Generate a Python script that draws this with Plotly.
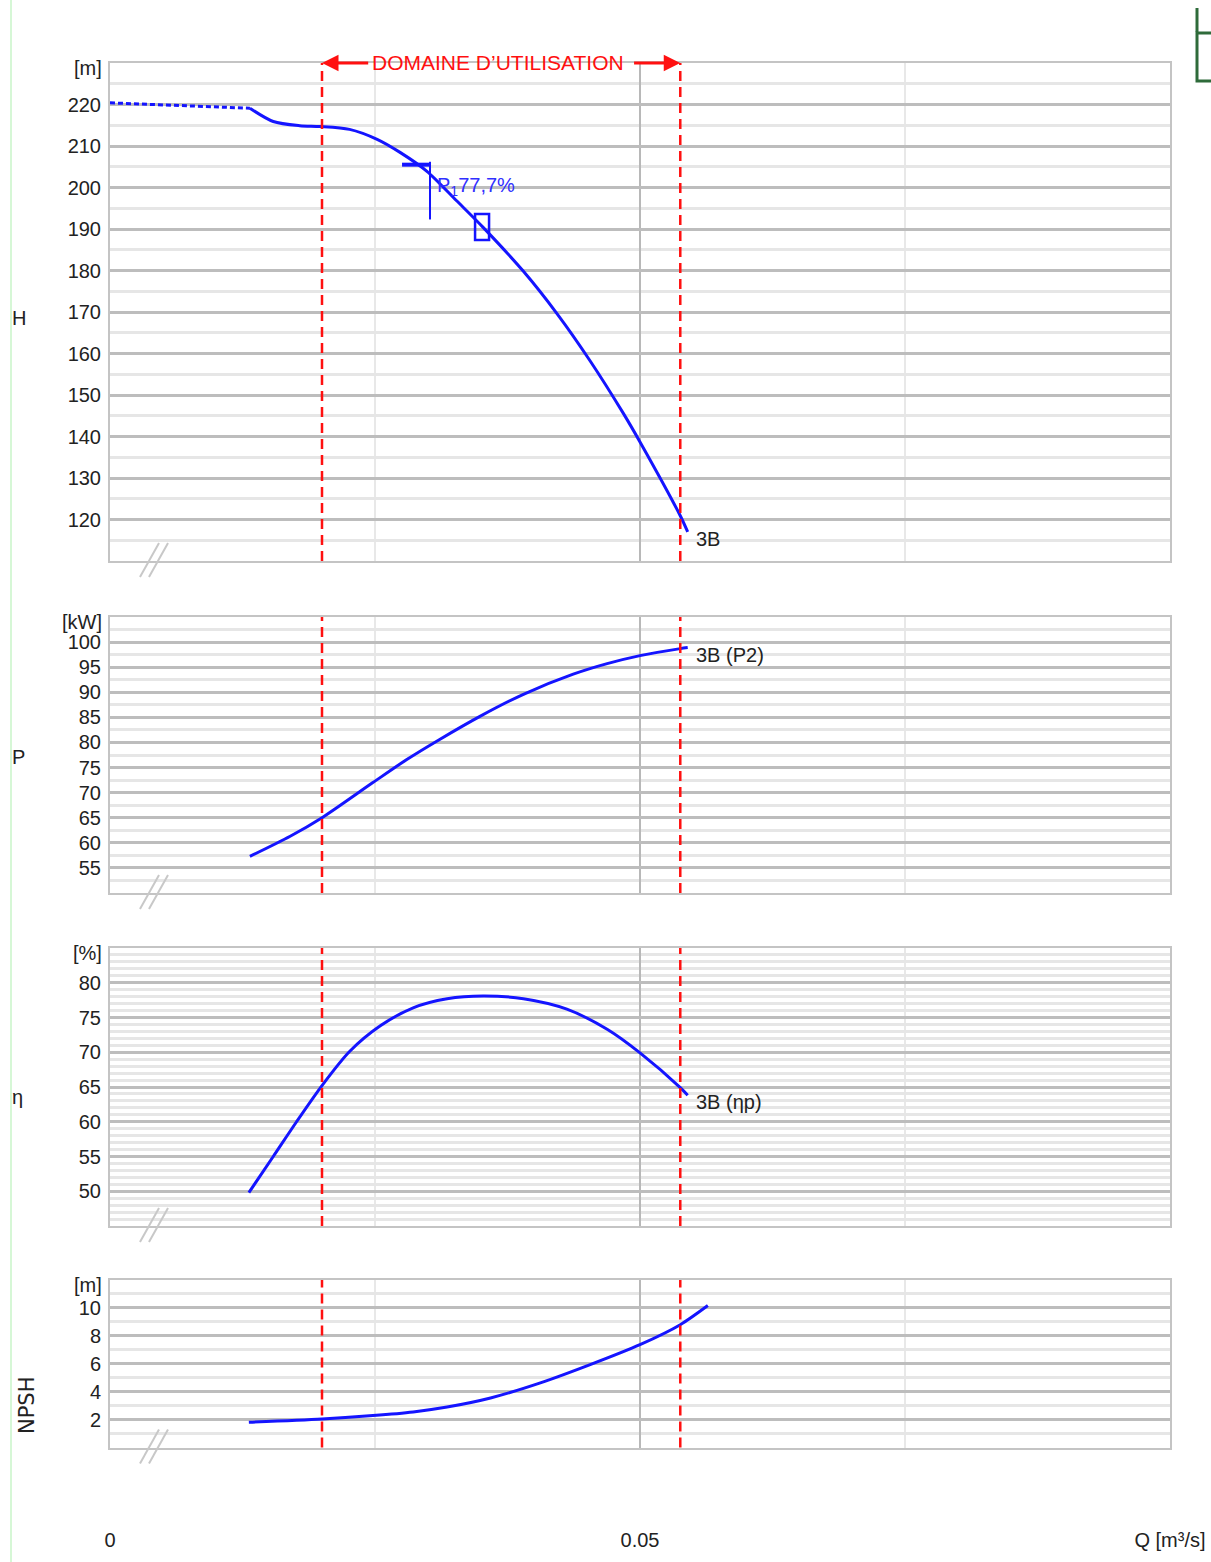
import plotly.graph_objects as go

# ---------------- data ----------------
q_h_dotted = [0.0, 0.0132]
h_dotted = [220.4, 219.1]

q_h = [0.0132, 0.0154, 0.0179, 0.0198, 0.0226, 0.0252, 0.0274, 0.0299, 0.0327,
       0.0352, 0.0390, 0.0422, 0.0453, 0.0484, 0.0500, 0.0538, 0.0545]
h_vals = [219.1, 215.9, 214.9, 214.7, 214.0, 211.6, 208.4, 203.9, 196.8,
          190.4, 179.8, 169.5, 158.2, 145.7, 138.7, 120.9, 117.0]

q_p = [0.0132, 0.0170, 0.0200, 0.0248, 0.0280, 0.0311, 0.0349, 0.0390, 0.0437,
       0.0469, 0.0500, 0.0538, 0.0545]
p_vals = [57.3, 61.3, 65.0, 72.0, 76.6, 80.6, 85.2, 89.6, 93.6, 95.7, 97.3, 98.7, 98.9]

q_eta = [0.0131, 0.0154, 0.0176, 0.0200, 0.0226, 0.0255, 0.0286, 0.0318, 0.0352,
         0.0390, 0.0431, 0.0469, 0.0500, 0.0538, 0.0545]
eta_vals = [49.8, 55.0, 60.0, 65.2, 70.1, 73.8, 76.4, 77.7, 78.1, 77.7, 76.2, 73.3,
            69.9, 64.9, 63.8]

q_npsh = [0.0131, 0.0200, 0.0248, 0.0286, 0.0318, 0.0359, 0.0406, 0.0453, 0.0500,
          0.0538, 0.0564]
npsh_vals = [1.81, 2.05, 2.29, 2.55, 2.90, 3.55, 4.63, 5.94, 7.37, 8.80, 10.17]

domain_q = [0.0200, 0.0538]          # DOMAINE D'UTILISATION limits
bep_q, bep_h = 0.0351, 190.5          # operating point (square)
bep_label = "P<sub>1</sub>77,7%"

x_tickvals = [0, 0.05, 0.1]
x_ticktext = ["0", "0.05", "Q [m³/s]"]
x_minor = [0.025, 0.075]

h_ticks = list(range(120, 221, 10))
p_ticks = list(range(55, 101, 5))
eta_ticks = list(range(50, 81, 5))
npsh_ticks = [2, 4, 6, 8, 10]

curve_labels = ["3B", "3B (P2)", "3B (ηp)"]

# ---------------- layout helpers ----------------
W, HGT = 1211, 1562
FONT = "Liberation Sans Narrow, Liberation Sans, Arial, sans-serif"
BLUE = "#1414ff"
RED = "#ff1010"
TXT = "#222222"
FS = 20


def py(px):
    return 1 - px / HGT


def pxx(px):
    return px / W


panels = [
    dict(top=63, bot=561, rng=[110, 230], ticks=h_ticks, minor=5, unit="[m]", unit_y=68,
         name="H", name_y=318),
    dict(top=617, bot=893, rng=[50, 105], ticks=p_ticks, minor=2.5, unit="[kW]", unit_y=622,
         name="P", name_y=757),
    dict(top=948, bot=1226, rng=[45, 85], ticks=eta_ticks, minor=1, unit="[%]", unit_y=953,
         name="η", name_y=1097),
    dict(top=1280, bot=1447.5, rng=[0, 12], ticks=npsh_ticks, minor=1, unit="[m]", unit_y=1285,
         name="NPSH", name_y=1405),
]

fig = go.Figure()

line_style = dict(color=BLUE, width=3)
fig.add_trace(go.Scatter(x=q_h_dotted, y=h_dotted, mode="lines", xaxis="x", yaxis="y",
                         line=dict(color=BLUE, width=3, dash="5px,3px")))
fig.add_trace(go.Scatter(x=q_h, y=h_vals, mode="lines", xaxis="x", yaxis="y",
                         line=dict(shape="spline", smoothing=0.8, **line_style)))
fig.add_trace(go.Scatter(x=q_p, y=p_vals, mode="lines", xaxis="x2", yaxis="y2",
                         line=dict(shape="spline", smoothing=0.8, **line_style)))
fig.add_trace(go.Scatter(x=q_eta, y=eta_vals, mode="lines", xaxis="x3", yaxis="y3",
                         line=dict(shape="spline", smoothing=0.8, **line_style)))
fig.add_trace(go.Scatter(x=q_npsh, y=npsh_vals, mode="lines", xaxis="x4", yaxis="y4",
                         line=dict(shape="spline", smoothing=0.8, **line_style)))

layout = dict(
    width=W, height=HGT, autosize=False,
    margin=dict(l=0, r=0, t=0, b=0, pad=0),
    paper_bgcolor="white", plot_bgcolor="white",
    showlegend=False,
    font=dict(family=FONT, color=TXT, size=FS),
)

shapes = []
annotations = []

for i, pn in enumerate(panels):
    k = "" if i == 0 else str(i + 1)
    xa = dict(
        domain=[pxx(110), pxx(1170)], range=[0, 0.1], anchor="y" + k, automargin=False,
        tickvals=x_tickvals, ticktext=x_ticktext, showticklabels=(i == 3),
        ticks="", showgrid=True, gridcolor="#b8b8b8", gridwidth=2, zeroline=False,
        showline=True, mirror=True, linecolor="#c4c4c4", linewidth=2,
        minor=dict(tickvals=x_minor, showgrid=True, gridcolor="#e8e8e8", gridwidth=2),
        tickfont=dict(size=FS, color=TXT),
    )
    if i == 3:
        xa["ticklabelstandoff"] = 73
    ya = dict(
        domain=[py(pn["bot"]), py(pn["top"])], range=pn["rng"], anchor="x" + k,
        automargin=False,
        tickvals=pn["ticks"], ticks="", showgrid=True, gridcolor="#bdbdbd", gridwidth=3,
        zeroline=False, showline=True, mirror=True, linecolor="#c4c4c4", linewidth=2,
        minor=dict(dtick=pn["minor"], showgrid=True, gridcolor="#e6e6e6", gridwidth=3),
        tickfont=dict(size=FS, color=TXT), ticklabelstandoff=3,
    )
    layout["xaxis" + k] = xa
    layout["yaxis" + k] = ya

    # domain limits (red dashed)
    for q in domain_q:
        shapes.append(dict(type="line", xref="x" + k, yref="y" + k + " domain",
                           x0=q, x1=q, y0=0, y1=1, layer="above",
                           line=dict(color=RED, width=2.5, dash="10px,6px")))
    # axis break marks //
    b = pn["bot"]
    for dx in (0, 9):
        shapes.append(dict(type="line", xref="paper", yref="paper",
                           x0=pxx(140 + dx), y0=py(b + 16), x1=pxx(159 + dx), y1=py(b - 18),
                           line=dict(color="#c8c8c8", width=2)))
    # units
    annotations.append(dict(text=pn["unit"], xref="paper", yref="paper", x=pxx(104),
                            y=py(pn["unit_y"]), xanchor="right", yanchor="middle",
                            showarrow=False, font=dict(size=FS, color=TXT)))
    # side names
    if pn["name"] == "NPSH":
        annotations.append(dict(text=pn["name"], xref="paper", yref="paper", x=pxx(27),
                                y=py(pn["name_y"]), xanchor="center", yanchor="middle",
                                textangle=-90, showarrow=False,
                                font=dict(size=21, color=TXT, family="DejaVu Sans, sans-serif")))
    else:
        annotations.append(dict(text=pn["name"], xref="paper", yref="paper", x=pxx(10),
                                y=py(pn["name_y"]), xanchor="left", yanchor="middle",
                                showarrow=False, font=dict(size=FS, color=TXT)))

# DOMAINE D'UTILISATION text + arrows
top_h = panels[0]["rng"][1]
annotations.append(dict(text="DOMAINE D’UTILISATION", x=(domain_q[0] + domain_q[1]) / 2 - 0.0003,
                        y=top_h, xref="x", yref="y", showarrow=False, xanchor="center",
                        yanchor="middle", font=dict(size=21, color=RED)))
annotations.append(dict(text="", x=domain_q[0], y=top_h, xref="x", yref="y",
                        ax=domain_q[0] + 0.0045, ay=top_h, axref="x", ayref="y",
                        showarrow=True, arrowhead=2, arrowsize=1.1, arrowwidth=3,
                        arrowcolor=RED, standoff=0))
annotations.append(dict(text="", x=domain_q[1], y=top_h, xref="x", yref="y",
                        ax=domain_q[1] - 0.0045, ay=top_h, axref="x", ayref="y",
                        showarrow=True, arrowhead=2, arrowsize=1.1, arrowwidth=3,
                        arrowcolor=RED, standoff=0))

# curve end labels
ends = [(q_h[-1], h_vals[-1], "x", "y", curve_labels[0], -7),
        (q_p[-1], p_vals[-1], "x2", "y2", curve_labels[1], -7),
        (q_eta[-1], eta_vals[-1], "x3", "y3", curve_labels[2], -7)]
for xq, yv, xr, yr, lab, ys in ends:
    annotations.append(dict(text=lab, x=xq, y=yv, xref=xr, yref=yr, xanchor="left",
                            yanchor="middle", xshift=6, yshift=ys, showarrow=False,
                            font=dict(size=FS, color=TXT)))

# operating point P1
shapes.append(dict(type="rect", xref="x", yref="y", xsizemode="pixel", ysizemode="pixel",
                   xanchor=bep_q, yanchor=bep_h, x0=-7, x1=7, y0=-13, y1=13,
                   line=dict(color=BLUE, width=2.5), layer="above"))
shapes.append(dict(type="line", xref="x", yref="y", x0=0.02755, x1=0.03019, y0=205.5, y1=205.5,
                   line=dict(color=BLUE, width=4)))
shapes.append(dict(type="line", xref="x", yref="y", x0=0.03019, x1=0.03019, y0=206.2, y1=192.3,
                   line=dict(color=BLUE, width=2)))
annotations.append(dict(text=bep_label, x=0.0307, y=200.2, xref="x", yref="y",
                        xanchor="left", yanchor="middle", showarrow=False,
                        font=dict(size=20, color="#3030ff")))

# decorative frame elements
shapes.append(dict(type="line", xref="paper", yref="paper", x0=pxx(11), x1=pxx(11), y0=0, y1=1,
                   line=dict(color="#c8f5c8", width=1.5)))
shapes.append(dict(type="line", xref="paper", yref="paper", x0=pxx(1197), x1=pxx(1197),
                   y0=py(8), y1=py(32), line=dict(color="#2e6b3a", width=3)))
shapes.append(dict(type="rect", xref="paper", yref="paper", x0=pxx(1197), x1=pxx(1216),
                   y0=py(81), y1=py(33), line=dict(color="#2e6b3a", width=3)))

layout["shapes"] = shapes
layout["annotations"] = annotations
fig.update_layout(**layout)

fig.write_html("out.html")
